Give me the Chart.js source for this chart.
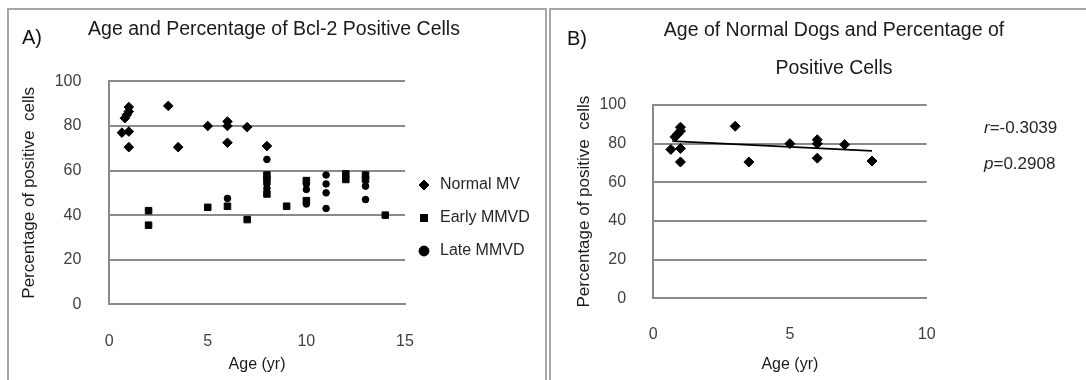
<!DOCTYPE html>
<html lang="en">
  <head>
    <meta charset="UTF-8" />
    <title>Bcl-2 Positive Cells vs Age</title>
    <script src="https://cdn.jsdelivr.net/npm/chart.js"></script>
    <style>
      body {
        margin: 0;
        width: 1086px;
        height: 380px;
        overflow: hidden;
        position: relative;
        background: #fff;
        font-family: "Liberation Sans", Arial, sans-serif;
      }
      .panel {
        position: absolute;
        top: 8px;
        height: 420px;
        box-sizing: border-box;
        border: 2px solid #a6a6a6;
      }
      canvas {
        position: absolute;
      }
      .tag {
        position: absolute;
        font-size: 20px;
        line-height: 22px;
        color: #111;
      }
      .stat {
        position: absolute;
        left: 984px;
        font-size: 17px;
        line-height: 18px;
        color: #262626;
      }
    </style>
  </head>
  <body>
    <div class="panel" style="left: 7px; width: 540px"></div>
    <div class="panel" style="left: 549px; width: 600px"></div>

    <canvas id="chartA" width="530" height="370" style="left: 9px; top: 10px"></canvas>
    <canvas id="chartB" width="566" height="370" style="left: 551px; top: 10px"></canvas>

    <div class="tag" style="left: 22px; top: 26px">A)</div>
    <div class="tag" style="left: 567px; top: 27px">B)</div>
    <div class="stat" style="top: 119px"><i>r</i>=-0.3039</div>
    <div class="stat" style="top: 155px"><i>p</i>=0.2908</div>

    <script>
      // values
      const normalAge = [0.65, 0.8, 0.9, 1, 1, 1, 1, 3, 3.5, 5, 6, 6, 6, 7, 8];
      const normalPct = [77, 83.5, 85, 88.5, 86.5, 77.5, 70.5, 89, 70.5, 80, 82, 80, 72.5, 79.5, 71];

      const earlyAge = [2, 2, 5, 6, 7, 8, 8, 8, 9, 10, 10, 12, 12, 13, 13, 14];
      const earlyPct = [42, 35.5, 43.5, 44, 38, 58, 56, 49.5, 44, 55.5, 46.5, 58.5, 56, 58, 56, 40];

      const lateAge = [6, 8, 8, 8, 10, 10, 10, 11, 11, 11, 11, 13, 13];
      const latePct = [47.5, 65, 54, 52, 54, 51.5, 45, 58, 54, 50, 43, 53, 47];

      // trend line ends (normal dogs)
      const trendAge = [0.7, 8];
      const trendPct = [81.3, 76.2];

      const ageTicksA = [0, 5, 10, 15];
      const ageTicksB = [0, 5, 10];
      const pctTicks = [0, 20, 40, 60, 80, 100];

      const gridGray = "#8a8a8a";
      const tickColor = "#404040";
      const textColor = "#1a1a1a";

      Chart.defaults.font.family = "'Liberation Sans', Arial, sans-serif";

      const pts = (xs, ys) => xs.map((x, i) => ({ x: x, y: ys[i] }));

      // moves the legend box after layout (beside the plot like the original)
      const nudgeLegend = {
        id: "nudgeLegend",
        afterLayout(chart, args, opts) {
          const lg = chart.legend;
          if (!lg || !opts) return;
          lg.left += opts.dx || 0;
          lg.right += opts.dx || 0;
          lg.top += opts.dy || 0;
          lg.bottom += opts.dy || 0;
        },
      };

      function xScale(ticks, plotBottomGap, pad) {
        return {
          type: "linear",
          min: ticks[0],
          max: ticks[ticks.length - 1],
          afterBuildTicks: (s) => {
            s.ticks = ticks.map((v) => ({ value: v }));
          },
          ticks: { padding: pad, font: { size: 16 }, color: tickColor },
          grid: { display: false },
          border: { display: true, color: gridGray, width: 2 },
          title: {
            display: true,
            text: "Age (yr)",
            font: { size: 16 },
            color: textColor,
            padding: { top: 0, bottom: 6 },
          },
          afterFit: (s) => {
            s.height = plotBottomGap;
          },
        };
      }

      function yScale(width, tickPad, titlePad) {
        return {
          type: "linear",
          min: 0,
          max: 100,
          afterBuildTicks: (s) => {
            s.ticks = pctTicks.map((v) => ({ value: v }));
          },
          ticks: { padding: tickPad, font: { size: 16 }, color: tickColor },
          grid: { color: gridGray, lineWidth: 2, drawTicks: false },
          border: { display: true, color: gridGray, width: 2 },
          title: {
            display: true,
            text: "Percentage of positive  cells",
            font: { size: 17 },
            color: textColor,
            padding: { top: titlePad, bottom: 0 },
          },
          afterFit: (s) => {
            s.width = width;
          },
        };
      }

      // Panel A
      new Chart(document.getElementById("chartA"), {
        type: "scatter",
        data: {
          datasets: [
            {
              label: "Normal MV",
              data: pts(normalAge, normalPct),
              pointStyle: "rectRot",
              pointRadius: 4.8,
              backgroundColor: "#000",
              borderColor: "#000",
            },
            {
              label: "Early MMVD",
              data: pts(earlyAge, earlyPct),
              pointStyle: "rect",
              pointRadius: 4.6,
              backgroundColor: "#000",
              borderColor: "#000",
            },
            {
              label: "Late MMVD",
              data: pts(lateAge, latePct),
              pointStyle: "circle",
              pointRadius: 3.3,
              backgroundColor: "#000",
              borderColor: "#000",
            },
          ],
        },
        options: {
          responsive: false,
          animation: false,
          events: [],
          plugins: {
            title: {
              display: true,
              text: "Age and Percentage of Bcl-2 Positive Cells",
              font: { size: 19.5, weight: "normal" },
              color: textColor,
              padding: { top: 8, bottom: 40 },
            },
            legend: {
              position: "right",
              align: "start",
              maxWidth: 134,
              labels: {
                usePointStyle: true,
                boxHeight: 7,
                padding: 17,
                font: { size: 16 },
                color: "#262626",
              },
            },
            tooltip: { enabled: false },
            nudgeLegend: { dx: -6, dy: 150 },
          },
          scales: {
            x: xScale(ageTicksA, 75.7, 20),
            y: yScale(100.1, 27.7, 10),
          },
        },
        plugins: [nudgeLegend],
      });

      // Panel B
      new Chart(document.getElementById("chartB"), {
        type: "scatter",
        data: {
          datasets: [
            {
              label: "Trend",
              data: pts(trendAge, trendPct),
              showLine: true,
              borderColor: "#000",
              borderWidth: 1.75,
              pointRadius: 0,
              fill: false,
            },
            {
              label: "Normal MV",
              data: pts(normalAge, normalPct),
              pointStyle: "rectRot",
              pointRadius: 5,
              backgroundColor: "#000",
              borderColor: "#000",
            },
          ],
        },
        options: {
          responsive: false,
          animation: false,
          events: [],
          plugins: {
            title: {
              display: true,
              text: ["Age of Normal Dogs and Percentage of", "Positive Cells"],
              font: { size: 19.5, weight: "normal", lineHeight: 1.93 },
              color: textColor,
              padding: { top: 2, bottom: 17.7 },
            },
            legend: { display: false },
            tooltip: { enabled: false },
          },
          scales: {
            x: xScale(ageTicksB, 81.7, 19),
            y: yScale(102.1, 27, 23.3),
            // empty space on the right where the r / p text sits
            pad: {
              axis: "y",
              position: "right",
              grid: { display: false },
              border: { display: false },
              ticks: { display: false },
              afterFit: (s) => {
                s.width = 190.3;
              },
            },
          },
        },
      });
    </script>
  </body>
</html>
